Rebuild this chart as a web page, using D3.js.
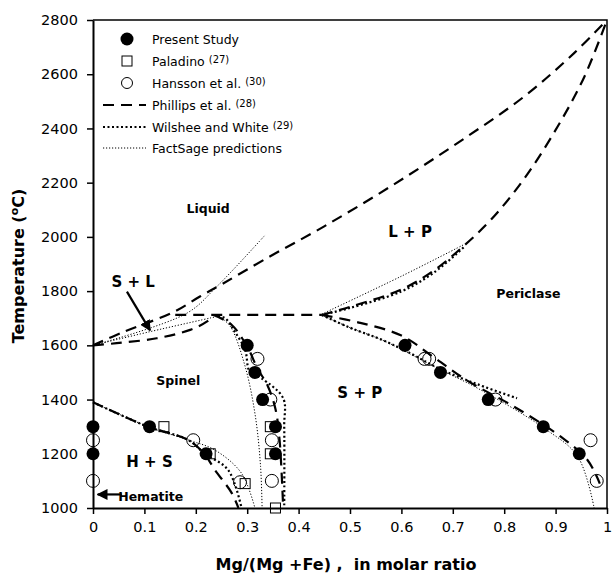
<!DOCTYPE html>
<html>
<head>
<meta charset="utf-8">
<script src="https://cdn.jsdelivr.net/npm/d3@7"></script>
<style>
body { margin: 0; background: #fff; }
text { font-family: "DejaVu Sans", Verdana, sans-serif; fill: #000; }
</style>
</head>
<body>
<div id="canvas"></div>
<script>
const canvas = d3.select("#canvas");

// measured points  [Mg/(Mg+Fe), T in C]
const presentStudy = [[0,1300],[0,1200],[0.11,1300],[0.22,1200],[0.30,1600],[0.315,1500],[0.33,1400],
    [0.355,1300],[0.355,1200],[0.607,1600],[0.676,1500],[0.769,1400],[0.876,1300],[0.946,1200]];
const paladino = [[0.138,1300],[0.228,1200],[0.296,1090],[0.345,1300],[0.345,1200],[0.355,1000]];
const hansson = [[0,1250],[0,1100],[0.195,1250],[0.286,1095],[0.32,1550],[0.345,1400],[0.348,1250],
    [0.348,1100],[0.645,1550],[0.654,1550],[0.783,1400],[0.968,1250],[0.98,1100]];

// Phillips et al. (28)
const phLiquidus = [[0,1600],[0.06,1650],[0.156,1722],[0.208,1780],[0.254,1829],[0.332,1915],[0.449,2038],
    [0.579,2186],[0.709,2346],[0.839,2518],[0.936,2678],[1,2800]];
const phSpinelSolidus = [[0,1600],[0.046,1608],[0.124,1626],[0.189,1657],[0.222,1688],[0.235,1712]];
const phPeritectic = [[0.16,1712],[0.445,1712]];
const phSpinelSolvus = [[0.235,1712],[0.27,1675],[0.30,1595],[0.32,1515],[0.34,1450],[0.355,1365],[0.363,1250],[0.37,1000]];
const phHematite = [[0,1390],[0.107,1300],[0.185,1251],[0.218,1196],[0.237,1141],[0.27,1055],[0.283,1000]];
const phPericlase = [[0.445,1712],[0.52,1683],[0.6,1636],[0.663,1556],[0.728,1470],[0.819,1374],
    [0.91,1263],[0.962,1177],[0.986,1090]];
const phPericlaseSolidus = [[0.445,1712],[0.5,1742],[0.6,1806],[0.663,1876],[0.722,1968],[0.775,2065],
    [0.839,2215],[0.904,2407],[0.956,2591],[1,2800]];

// Wilshee and White (29)
const wwPericlaseSolidus = [[0.445,1712],[0.5,1738],[0.6,1799],[0.663,1868],[0.722,1963]];
const wwPericlase = [[0.445,1712],[0.5,1665],[0.56,1622],[0.61,1578],[0.676,1512],[0.75,1455],[0.825,1405]];
const wwSpinelSolvus = [[0.235,1712],[0.257,1700],[0.276,1650],[0.296,1583],[0.305,1503],[0.328,1478],
    [0.37,1405],[0.372,1300],[0.372,1000]];
const wwHematite = [[0,1390],[0.107,1300],[0.185,1251],[0.218,1200],[0.263,1140],[0.289,1000]];

// FactSage predictions
const fsLiquidus = [[0,1600],[0.183,1719],[0.241,1817],[0.335,2007]];
const fsSpinelSolidus = [[0,1600],[0.11,1650],[0.245,1708]];
const fsSpinelSolvus = [[0.245,1708],[0.267,1670],[0.296,1522],[0.316,1337],[0.326,1153],[0.329,1000]];
const fsHematite = [[0,1390],[0.107,1300],[0.185,1251],[0.237,1214],[0.289,1128],[0.315,1000]];
const fsPericlase = [[0.445,1712],[0.5,1665],[0.56,1622],[0.61,1575],[0.676,1510],[0.75,1440],[0.878,1294],
    [0.943,1190],[0.975,1000]];
const fsPericlaseSolidus = [[0.445,1715],[0.6,1855],[0.722,1972]];

const xTicks = [0,0.1,0.2,0.3,0.4,0.5,0.6,0.7,0.8,0.9,1];
const yTicks = [1000,1200,1400,1600,1800,2000,2200,2400,2600,2800];

const legendNames = ["Present Study","Paladino","Hansson et al.","Phillips et al.","Wilshee and White","FactSage predictions"];
const legendRefs = ["","(27)","(30)","(28)","(29)",""];

const phaseLabels = [
    { text: "Liquid", x: 0.224, t: 2105, big: false },
    { text: "L + P", x: 0.617, t: 2019, big: true },
    { text: "S + L", x: 0.078, t: 1835, big: true },
    { text: "Periclase", x: 0.847, t: 1792, big: false },
    { text: "Spinel", x: 0.166, t: 1472, big: false },
    { text: "S + P", x: 0.519, t: 1425, big: true },
    { text: "H + S", x: 0.11, t: 1171, big: true }
];

const width = 613;
const height = 576;
const margin = { top: 20, left: 93, bottom: 68, right: 6 };
const iwidth = width - margin.left - margin.right;
const iheight = height - margin.top - margin.bottom;

const svg = canvas.append("svg")
    .attr("width", width)
    .attr("height", height);

const g = svg.append("g").attr("transform", `translate(${margin.left},${margin.top})`);

const x = d3.scaleLinear().domain([0, 1]).range([0, iwidth]);
const y = d3.scaleLinear().domain([1000, 2800]).range([iheight, 0]);

const line = d3.line()
    .x(d => x(d[0]))
    .y(d => y(d[1]))
    .curve(d3.curveCatmullRom.alpha(0.5));

// frame top / right
g.append("path")
    .attr("d", `M0,0H${iwidth}V${iheight}`)
    .attr("fill", "none")
    .attr("stroke", "#000")
    .attr("stroke-width", 1.5);

const styles = {
    phillips: { w: 2.2, dash: "11,7" },
    wilshee: { w: 2.2, dash: "2,2.5" },
    factsage: { w: 1, dash: "1.2,1.8" }
};

const drawCurves = (curves, st) => {
    g.append("g").selectAll("path").data(curves).enter().append("path")
        .attr("d", line)
        .attr("fill", "none")
        .attr("stroke", "#000")
        .attr("stroke-width", st.w)
        .attr("stroke-dasharray", st.dash);
};

drawCurves([fsLiquidus, fsSpinelSolidus, fsSpinelSolvus, fsHematite, fsPericlase, fsPericlaseSolidus], styles.factsage);
drawCurves([wwPericlaseSolidus, wwPericlase, wwSpinelSolvus, wwHematite], styles.wilshee);
drawCurves([phLiquidus, phSpinelSolidus, phPeritectic, phSpinelSolvus, phHematite, phPericlase, phPericlaseSolidus], styles.phillips);

// arrows
svg.append("defs").append("marker")
    .attr("id", "head")
    .attr("viewBox", "0 0 10 10")
    .attr("refX", 9).attr("refY", 5)
    .attr("markerWidth", 5).attr("markerHeight", 5)
    .attr("orient", "auto")
    .append("path").attr("d", "M0,0L10,5L0,10z").attr("fill", "#000");

const arrows = [[[0.066,1798],[0.111,1655]], [[0.056,1050],[0.009,1050]]];
g.append("g").selectAll("line").data(arrows).enter().append("line")
    .attr("x1", d => x(d[0][0])).attr("y1", d => y(d[0][1]))
    .attr("x2", d => x(d[1][0])).attr("y2", d => y(d[1][1]))
    .attr("stroke", "#000")
    .attr("stroke-width", 2.2)
    .attr("marker-end", "url(#head)");

// markers
g.append("g").selectAll("rect").data(paladino).enter().append("rect")
    .attr("x", d => x(d[0]) - 5).attr("y", d => y(d[1]) - 5)
    .attr("width", 10).attr("height", 10)
    .attr("fill", "none").attr("stroke", "#000").attr("stroke-width", 1);

g.append("g").selectAll("circle").data(hansson).enter().append("circle")
    .attr("cx", d => x(d[0])).attr("cy", d => y(d[1]))
    .attr("r", 6.5)
    .attr("fill", "none").attr("stroke", "#000").attr("stroke-width", 1);

g.append("g").selectAll("circle").data(presentStudy).enter().append("circle")
    .attr("cx", d => x(d[0])).attr("cy", d => y(d[1]))
    .attr("r", 6.5)
    .attr("fill", "#000");

// phase labels
g.append("g").selectAll("text").data(phaseLabels).enter().append("text")
    .attr("x", d => x(d.x)).attr("y", d => y(d.t))
    .attr("text-anchor", "middle")
    .attr("dominant-baseline", "central")
    .attr("font-weight", "bold")
    .attr("font-size", d => d.big ? "15px" : "12.5px")
    .text(d => d.text);

g.append("text")
    .attr("x", x(0.049)).attr("y", y(1042))
    .attr("dominant-baseline", "central")
    .attr("font-weight", "bold")
    .attr("font-size", "12.5px")
    .text("Hematite");

// axes
const xAxis = g.append("g")
    .attr("transform", `translate(0, ${iheight})`)
    .call(d3.axisBottom(x).tickValues(xTicks).tickSize(6).tickSizeOuter(0).tickPadding(8)
        .tickFormat(d => String(+d.toFixed(1))));
const yAxis = g.append("g")
    .call(d3.axisLeft(y).tickValues(yTicks).tickSize(6).tickSizeOuter(0).tickPadding(9)
        .tickFormat(d3.format("d")));

[xAxis, yAxis].forEach(a => {
    a.select(".domain").attr("stroke-width", 2);
    a.selectAll(".tick line").attr("stroke-width", 1.5);
    a.selectAll(".tick text").attr("font-size", "14.5px").attr("font-family", "DejaVu Sans, sans-serif");
});

svg.append("text")
    .attr("x", margin.left + iwidth / 2 - 4)
    .attr("y", 570)
    .attr("text-anchor", "middle")
    .attr("font-weight", "bold")
    .attr("font-size", "16px")
    .style("white-space", "pre")
    .text("Mg/(Mg +Fe) ,  in molar ratio");

const yTitle = svg.append("text")
    .attr("transform", "translate(24, 266) rotate(-90)")
    .attr("text-anchor", "middle")
    .attr("font-weight", "bold")
    .attr("font-size", "16px");
yTitle.append("tspan").text("Temperature (");
yTitle.append("tspan").attr("font-size", "11px").attr("dy", -6).text("o");
yTitle.append("tspan").attr("dy", 6).text("C)");

// legend
const legend = svg.append("g");
const rowY = [39, 61, 83, 105, 127, 148];
legendNames.forEach((name, i) => {
    const t = legend.append("text")
        .attr("x", 152).attr("y", rowY[i])
        .attr("dominant-baseline", "central")
        .attr("font-size", "12.5px")
        .text(name);
    if (legendRefs[i]) {
        t.append("tspan").text(" ");
        t.append("tspan").attr("font-size", "10px").attr("dy", -2).text(legendRefs[i]);
    }
});
legend.append("circle").attr("cx", 127).attr("cy", rowY[0]).attr("r", 6.5).attr("fill", "#000");
legend.append("rect").attr("x", 122).attr("y", rowY[1] - 5).attr("width", 10).attr("height", 10)
    .attr("fill", "none").attr("stroke", "#000");
legend.append("circle").attr("cx", 127).attr("cy", rowY[2]).attr("r", 5.5)
    .attr("fill", "none").attr("stroke", "#000");
[["phillips", 3], ["wilshee", 4], ["factsage", 5]].forEach(([k, i]) => {
    legend.append("line")
        .attr("x1", 103).attr("x2", 146)
        .attr("y1", rowY[i]).attr("y2", rowY[i])
        .attr("stroke", "#000")
        .attr("stroke-width", styles[k].w)
        .attr("stroke-dasharray", styles[k].dash);
});
</script>
</body>
</html>
